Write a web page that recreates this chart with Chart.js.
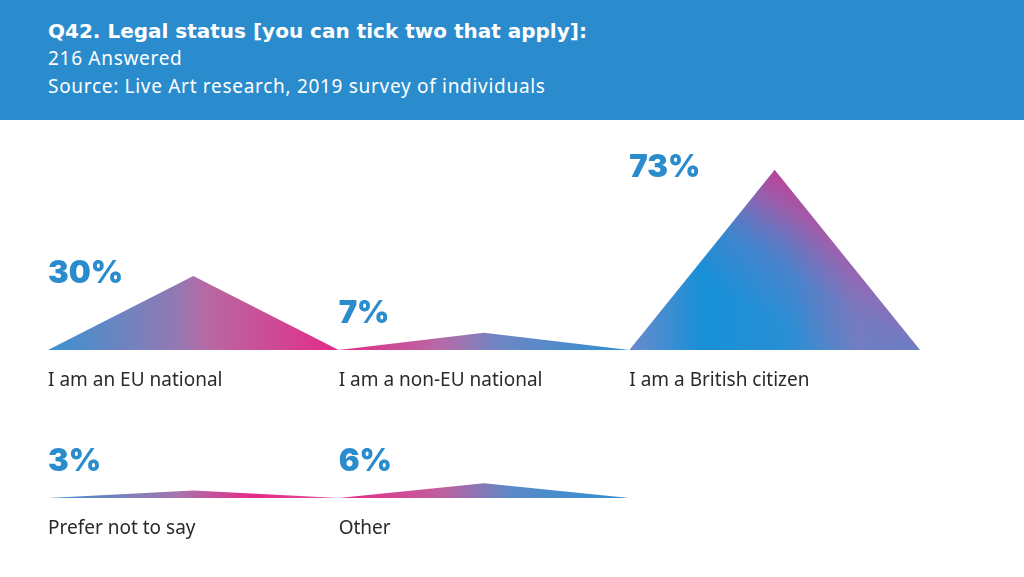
<!DOCTYPE html>
<html>
<head>
<meta charset="utf-8">
<script src="https://cdn.jsdelivr.net/npm/chart.js@4.4.1/dist/chart.umd.min.js"></script>
<style>
  html, body { margin: 0; padding: 0; background: #fff; width: 1024px; height: 577px; overflow: hidden; }
  .head {
    position: absolute; left: 0; top: 0; width: 1024px; height: 120px;
    background: #2b8ccd; color: #fff; font-family: "Noto Sans", sans-serif;
  }
  .head .t  { position: absolute; left: 48px; top: 19px; font: bold 20px "DejaVu Sans", sans-serif; white-space: nowrap; }
  .head .s1 { position: absolute; left: 48px; top: 45px; font-size: 19px; letter-spacing: 0.7px; white-space: nowrap; }
  .head .s2 { position: absolute; left: 48px; top: 73px; font-size: 19px; letter-spacing: 0.7px; white-space: nowrap; }
  canvas { position: absolute; left: 0; }
  #row1 { top: 130px; }
  #row2 { top: 278px; }
</style>
</head>
<body>
<div class="head">
  <div class="t">Q42. Legal status [you can tick two that apply]:</div>
  <div class="s1">216 Answered</div>
  <div class="s2">Source: Live Art research, 2019 survey of individuals</div>
</div>
<canvas id="row1" width="1024" height="270"></canvas>
<canvas id="row2" width="1024" height="270"></canvas>

<script>
// ── Data ──────────────────────────────────────────────────────────────────
const categories = ['I am an EU national', 'I am a non-EU national', 'I am a British citizen', 'Prefer not to say', 'Other'];
const percents   = [30, 7, 73, 3, 6];
const row1       = [0, 1, 2];
const row2       = [3, 4];
const maxPct     = 73;

// ── Styles ────────────────────────────────────────────────────────────────
const BLUE = '#2b8ccd';
const PINK = '#e42a88';
const fills = [
  [[0, '#3a92d0'], [0.45, '#9478b2'], [0.55, '#b868a4'], [1, PINK]],
  [[0, PINK], [0.35, '#b66aa6'], [0.55, '#6e86c4'], [1, '#3090d2']],
  [[0, '#6b8acc'], [0.25, '#1790d8'], [0.55, '#2a8ed4'], [0.78, '#6c80c2'], [1, '#5c84c8']],
  [[0, '#3a92d0'], [0.45, '#a874ac'], [0.7, PINK], [1, '#e4509a']],
  [[0, PINK], [0.35, '#c0609e'], [0.6, '#5a8ac8'], [1, '#3090d2']],
];
const overlay = { 2: true };   // pink glow at the top of the tall peak

function hGrad(chart, k, stops) {
  const { ctx, chartArea, scales } = chart;
  if (!chartArea) return null;
  const g = ctx.createLinearGradient(scales.x.getPixelForValue(k), 0, scales.x.getPixelForValue(k + 1), 0);
  stops.forEach(([o, c]) => g.addColorStop(o, c));
  return g;
}

function glowGrad(chart, k) {
  const { ctx, chartArea, scales } = chart;
  if (!chartArea) return null;
  const px = scales.x.getPixelForValue(k + 0.5);
  const top = scales.y.getPixelForValue(maxPct);
  const g = ctx.createLinearGradient(px + 25, top, px - 50, top + 120);
  g.addColorStop(0, 'rgba(222,44,136,0.95)');
  g.addColorStop(0.3, 'rgba(196,76,156,0.7)');
  g.addColorStop(0.65, 'rgba(160,100,180,0.25)');
  g.addColorStop(1, 'rgba(150,110,190,0)');
  return g;
}

// ── Labels plugin ─────────────────────────────────────────────────────────
const labelsPlugin = {
  id: 'triLabels',
  afterDatasetsDraw(chart) {
    const { ctx, scales } = chart;
    const idxs = chart.options.plugins.triLabels.idxs;
    const base = scales.y.getPixelForValue(0);
    ctx.save();
    ctx.textAlign = 'left';
    ctx.textBaseline = 'alphabetic';
    idxs.forEach((ci, k) => {
      const x = scales.x.getPixelForValue(k);
      const peak = scales.y.getPixelForValue(percents[ci]);
      ctx.fillStyle = BLUE;
      ctx.font = '900 31px Inter, sans-serif';
      ctx.fillText(percents[ci] + '%', x, Math.min(peak + 7, base - 27));
      ctx.fillStyle = '#2a2a2a';
      ctx.font = '19px "Noto Sans", sans-serif';
      ctx.fillText(categories[ci], x, base + 36);
    });
    ctx.restore();
  },
};

// ── Chart factory ─────────────────────────────────────────────────────────
function mkRow(id, idxs) {
  const datasets = [];
  idxs.forEach((ci, k) => {
    const pts = [{ x: k, y: 0 }, { x: k + 0.5, y: percents[ci] }, { x: k + 1, y: 0 }];
    datasets.push({
      data: pts, fill: 'origin', borderWidth: 0, pointRadius: 0, tension: 0, order: 2,
      backgroundColor: (c) => hGrad(c.chart, k, fills[ci]),
    });
    if (overlay[ci]) {
      datasets.push({
        data: pts, fill: 'origin', borderWidth: 0, pointRadius: 0, tension: 0, order: 1,
        backgroundColor: (c) => glowGrad(c.chart, k),
      });
    }
  });
  return new Chart(document.getElementById(id), {
    type: 'line',
    data: { datasets },
    options: {
      responsive: false,
      animation: false,
      layout: { padding: { left: 48, right: 104, top: 40, bottom: 50 } },
      scales: {
        x: { type: 'linear', min: 0, max: 3, display: false },
        y: { min: 0, max: maxPct, display: false },
      },
      plugins: {
        legend: { display: false },
        tooltip: { enabled: false },
        triLabels: { idxs },
      },
    },
    plugins: [labelsPlugin],
  });
}

mkRow('row1', row1);
mkRow('row2', row2);
</script>
</body>
</html>
